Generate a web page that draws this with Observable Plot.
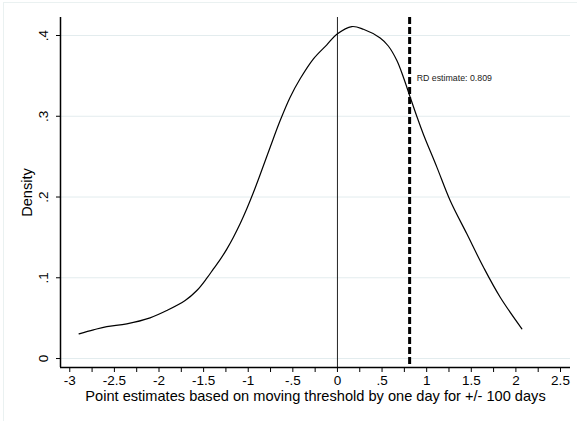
<!DOCTYPE html>
<html>
<head>
<meta charset="utf-8">
<script src="https://cdn.jsdelivr.net/npm/d3@7"></script>
<script src="https://cdn.jsdelivr.net/npm/@observablehq/plot@0.6"></script>
<style>
  html, body { margin: 0; padding: 0; background: #fff; }
  #wrap { position: relative; width: 577px; height: 421px; overflow: hidden; }
  #border { position: absolute; left: 3px; top: 2px; width: 600px; height: 600px;
            border-top: 1px solid #eaf1f1; border-left: 1px solid #eaf1f1; box-sizing: border-box; pointer-events: none; }
</style>
</head>
<body>
<div id="wrap"><div id="border"></div></div>
<script>
// Kernel density curve
const estX = [-2.896, -2.735, -2.585, -2.361, -2.10, -1.913, -1.707, -1.576, -1.464, -1.39, -1.315, -1.24, -1.166, -1.091, -1.016, -0.942, -0.867, -0.754, -0.642, -0.530, -0.418, -0.269, -0.119, -0.007, 0.161, 0.291, 0.479, 0.57, 0.666, 0.74, 0.815, 0.89, 0.964, 1.114, 1.263, 1.45, 1.637, 1.824, 2.067];
const density = [0.0306, 0.0355, 0.0396, 0.043, 0.0504, 0.0594, 0.0718, 0.0842, 0.0995, 0.111, 0.1225, 0.1355, 0.1502, 0.1668, 0.1854, 0.2055, 0.2275, 0.2617, 0.2947, 0.3236, 0.3464, 0.3711, 0.3885, 0.4015, 0.4111, 0.4078, 0.397, 0.387, 0.369, 0.348, 0.3237, 0.2997, 0.2775, 0.237, 0.1957, 0.1544, 0.113, 0.0759, 0.0368];
const rdEstimate = 0.809;
const rdLabel = "RD estimate: 0.809";
const xTicks = [-3, -2.5, -2, -1.5, -1, -0.5, 0, 0.5, 1, 1.5, 2, 2.5];
const xMinorTicks = [-2.75, -2.25, -1.75, -1.25, -0.75, -0.25, 0.25, 0.75, 1.25, 1.75, 2.25];
const yTicks = [0, 0.1, 0.2, 0.3, 0.4];
const xDomain = [-3.104, 2.612];
const yDomain = [-0.0111, 0.4223];
const xTitle = "Point estimates based on moving threshold by one day for +/- 100 days";
const yTitle = "Density";

const curve = estX.map((x, i) => ({x, y: density[i]}));
const fmt = d => d === 0 ? "0" : String(d).replace(/^(-?)0\./, "$1.");

const chart = Plot.plot({
  width: 577,
  height: 421,
  marginLeft: 60,
  marginRight: 7,
  marginTop: 17,
  marginBottom: 54,
  style: { fontFamily: "'Liberation Sans', Arial, Helvetica, sans-serif", fontSize: "13px", background: "transparent", color: "#000" },
  x: { domain: xDomain },
  y: { domain: yDomain },
  marks: [
    Plot.gridY(yTicks, { stroke: "#e3ecee", strokeOpacity: 1, strokeWidth: 1 }),
    Plot.ruleX([0], { stroke: "#222", strokeWidth: 1 }),
    Plot.ruleX([rdEstimate], { stroke: "#000", strokeWidth: 3, strokeDasharray: "7,3" }),
    Plot.line(curve, { x: "x", y: "y", stroke: "#000", strokeWidth: 1.2, curve: "catmull-rom" }),
    Plot.text([rdEstimate], { x: d => d, frameAnchor: "top", text: () => rdLabel, textAnchor: "start", dx: 7, dy: 57, fontSize: 8.8, fill: "#222" }),
    Plot.ruleX([xDomain[0]], { stroke: "#000", strokeWidth: 1.5 }),
    Plot.ruleY([yDomain[0]], { stroke: "#000", strokeWidth: 1.5 }),
    Plot.axisX(xTicks, { tickFormat: fmt, tickSize: 5, tickPadding: 3, fontSize: 13.5, label: null }),
    Plot.axisX(xMinorTicks, { tickFormat: () => "", tickSize: 5, label: null }),
    Plot.axisY(yTicks, { tickFormat: fmt, tickSize: 4, tickPadding: 9, tickRotate: -90, fontSize: 13.5, label: null }),
    Plot.text([xTitle], { frameAnchor: "bottom", text: d => d, dy: 33, fontSize: 14.6, textAnchor: "middle" }),
    Plot.text([yTitle], { frameAnchor: "left", text: d => d, dx: -33, rotate: -90, fontSize: 14.6, textAnchor: "middle" })
  ]
});
document.getElementById("wrap").appendChild(chart);
</script>
</body>
</html>
